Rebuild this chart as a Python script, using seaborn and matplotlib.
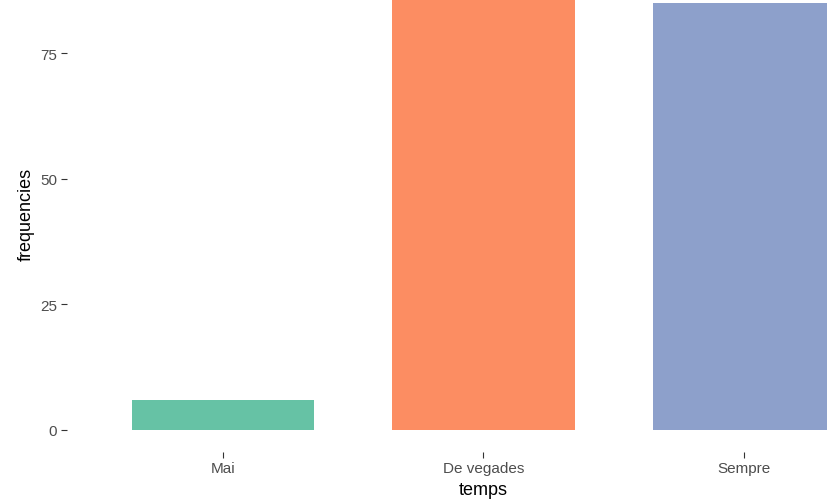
import numpy as np
import pandas as pd
import seaborn as sns
import matplotlib.pyplot as plt

categories = ["Mai", "De vegades", "Sempre"]
frequencies = [6, 86, 85]
yticks = [0, 25, 50, 75]

df = pd.DataFrame({"temps": categories, "frequencies": frequencies})

sns.set_theme(style="white")
plt.rcParams['font.family'] = ['Liberation Sans', 'DejaVu Sans']

fig = plt.figure(figsize=(8.28, 5.02), dpi=100)
# panel extends past the canvas edges (the reference is cropped)
ax = fig.add_axes([0.0809, 0.0984, 1.006, 0.947])

sns.barplot(data=df, x="temps", y="frequencies", hue="temps",
            palette="Set2", width=0.7, saturation=1, legend=False,
            linewidth=0, ax=ax)

ax.set_xlim(-0.6, 2.6)
ax.set_ylim(-4.3, 90.3)
ax.set_yticks(yticks)
ax.set_yticklabels([str(t) for t in yticks])

for s in ax.spines.values():
    s.set_visible(False)

ax.tick_params(axis="both", which="both", length=4, width=0.8,
               color="#333333", labelcolor="#4d4d4d", labelsize=11,
               pad=3, left=True, bottom=True)

ax.set_xlabel("temps", fontsize=13, color="black", labelpad=4)
ax.set_ylabel("frequencies", fontsize=13, color="black", labelpad=4)

fig.savefig("out.png", dpi=100)
